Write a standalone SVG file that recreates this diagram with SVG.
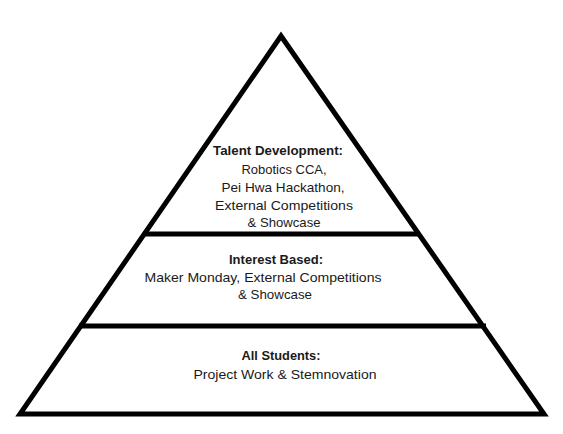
<svg xmlns="http://www.w3.org/2000/svg" width="563" height="434" viewBox="0 0 563 434">
  <style>
    .outline { fill: none; stroke: #000; stroke-width: 5; stroke-linejoin: miter; stroke-linecap: square; }
    .tier { stroke: #000; stroke-width: 5; stroke-linecap: butt; }
    text { font-family: "Liberation Sans", Arial, sans-serif; font-size: 13px; fill: #1a1a1a; text-anchor: middle; }
    .head { font-weight: bold; }
  </style>
  <rect width="563" height="434" fill="#fff"/>

  <g id="pyramid">
    <polygon class="outline" points="281,36 20,414 544,414"/>
  </g>

  <g id="connectors">
    <line class="tier" x1="143" y1="234" x2="420" y2="234"/>
    <line class="tier" x1="79" y1="326" x2="486" y2="326"/>
  </g>

  <g id="talent-development">
    <text class="head" x="278" y="155" textLength="130" lengthAdjust="spacingAndGlyphs">Talent Development:</text>
    <text x="284" y="174" textLength="85" lengthAdjust="spacingAndGlyphs">Robotics CCA,</text>
    <text x="283" y="192" textLength="123" lengthAdjust="spacingAndGlyphs">Pei Hwa Hackathon,</text>
    <text x="284" y="210" textLength="138" lengthAdjust="spacingAndGlyphs">External Competitions</text>
    <text x="284" y="227" textLength="73" lengthAdjust="spacingAndGlyphs">&amp; Showcase</text>
  </g>

  <g id="interest-based">
    <text class="head" x="276" y="264" textLength="94" lengthAdjust="spacingAndGlyphs">Interest Based:</text>
    <text x="263" y="282" textLength="237" lengthAdjust="spacingAndGlyphs">Maker Monday, External Competitions</text>
    <text x="275" y="299" textLength="74" lengthAdjust="spacingAndGlyphs">&amp; Showcase</text>
  </g>

  <g id="all-students">
    <text class="head" x="281" y="360" textLength="79" lengthAdjust="spacingAndGlyphs">All Students:</text>
    <text x="285" y="379" textLength="183" lengthAdjust="spacingAndGlyphs">Project Work &amp; Stemnovation</text>
  </g>
</svg>
